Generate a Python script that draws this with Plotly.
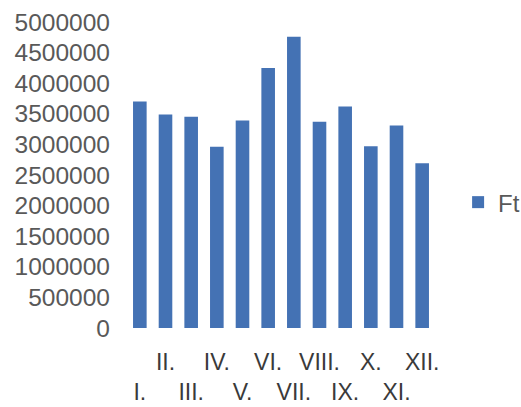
import plotly.graph_objects as go

months = ["I.", "II.", "III.", "IV.", "V.", "VI.", "VII.", "VIII.", "IX.", "X.", "XI.", "XII."]
ft_values = [3700000, 3490000, 3450000, 2960000, 3390000, 4250000, 4760000, 3370000, 3620000, 2970000, 3310000, 2690000]
y_ticks = [0, 500000, 1000000, 1500000, 2000000, 2500000, 3000000, 3500000, 4000000, 4500000, 5000000]

# staggered month labels: odd months drop to a second line
month_labels = [m if i % 2 == 1 else "<br>" + m for i, m in enumerate(months)]

font_family = "Liberation Sans, Arial, sans-serif"
text_color = "#595959"

fig = go.Figure(
    go.Bar(
        x=months,
        y=ft_values,
        name="Ft",
        marker=dict(color="#4472B4", line=dict(width=0)),
    )
)

fig.update_layout(
    width=521,
    height=407,
    margin=dict(l=127, r=86, t=22, b=79, autoexpand=False),
    paper_bgcolor="white",
    plot_bgcolor="white",
    bargap=0.47,
    font=dict(family=font_family, size=23, color=text_color),
    showlegend=True,
    legend=dict(
        x=1.075,
        y=0.41,
        xanchor="left",
        yanchor="middle",
        font=dict(size=24, color=text_color),
        itemwidth=30,
        bgcolor="rgba(0,0,0,0)",
    ),
)

fig.update_xaxes(
    tickmode="array",
    tickvals=months,
    ticktext=month_labels,
    showgrid=False,
    showline=False,
    zeroline=False,
    ticks="",
    automargin=False,
    ticklabelstandoff=18,
    tickangle=0,
    tickfont=dict(size=23, color="#3a3a3a"),
)

fig.update_yaxes(
    range=[0, 5000000],
    tickmode="array",
    tickvals=y_ticks,
    ticktext=[str(v) for v in y_ticks],
    showgrid=False,
    showline=False,
    zeroline=False,
    ticks="",
    automargin=False,
    ticklabelstandoff=16,
    tickfont=dict(size=24.5, color=text_color),
)

fig.write_html("out.html")
